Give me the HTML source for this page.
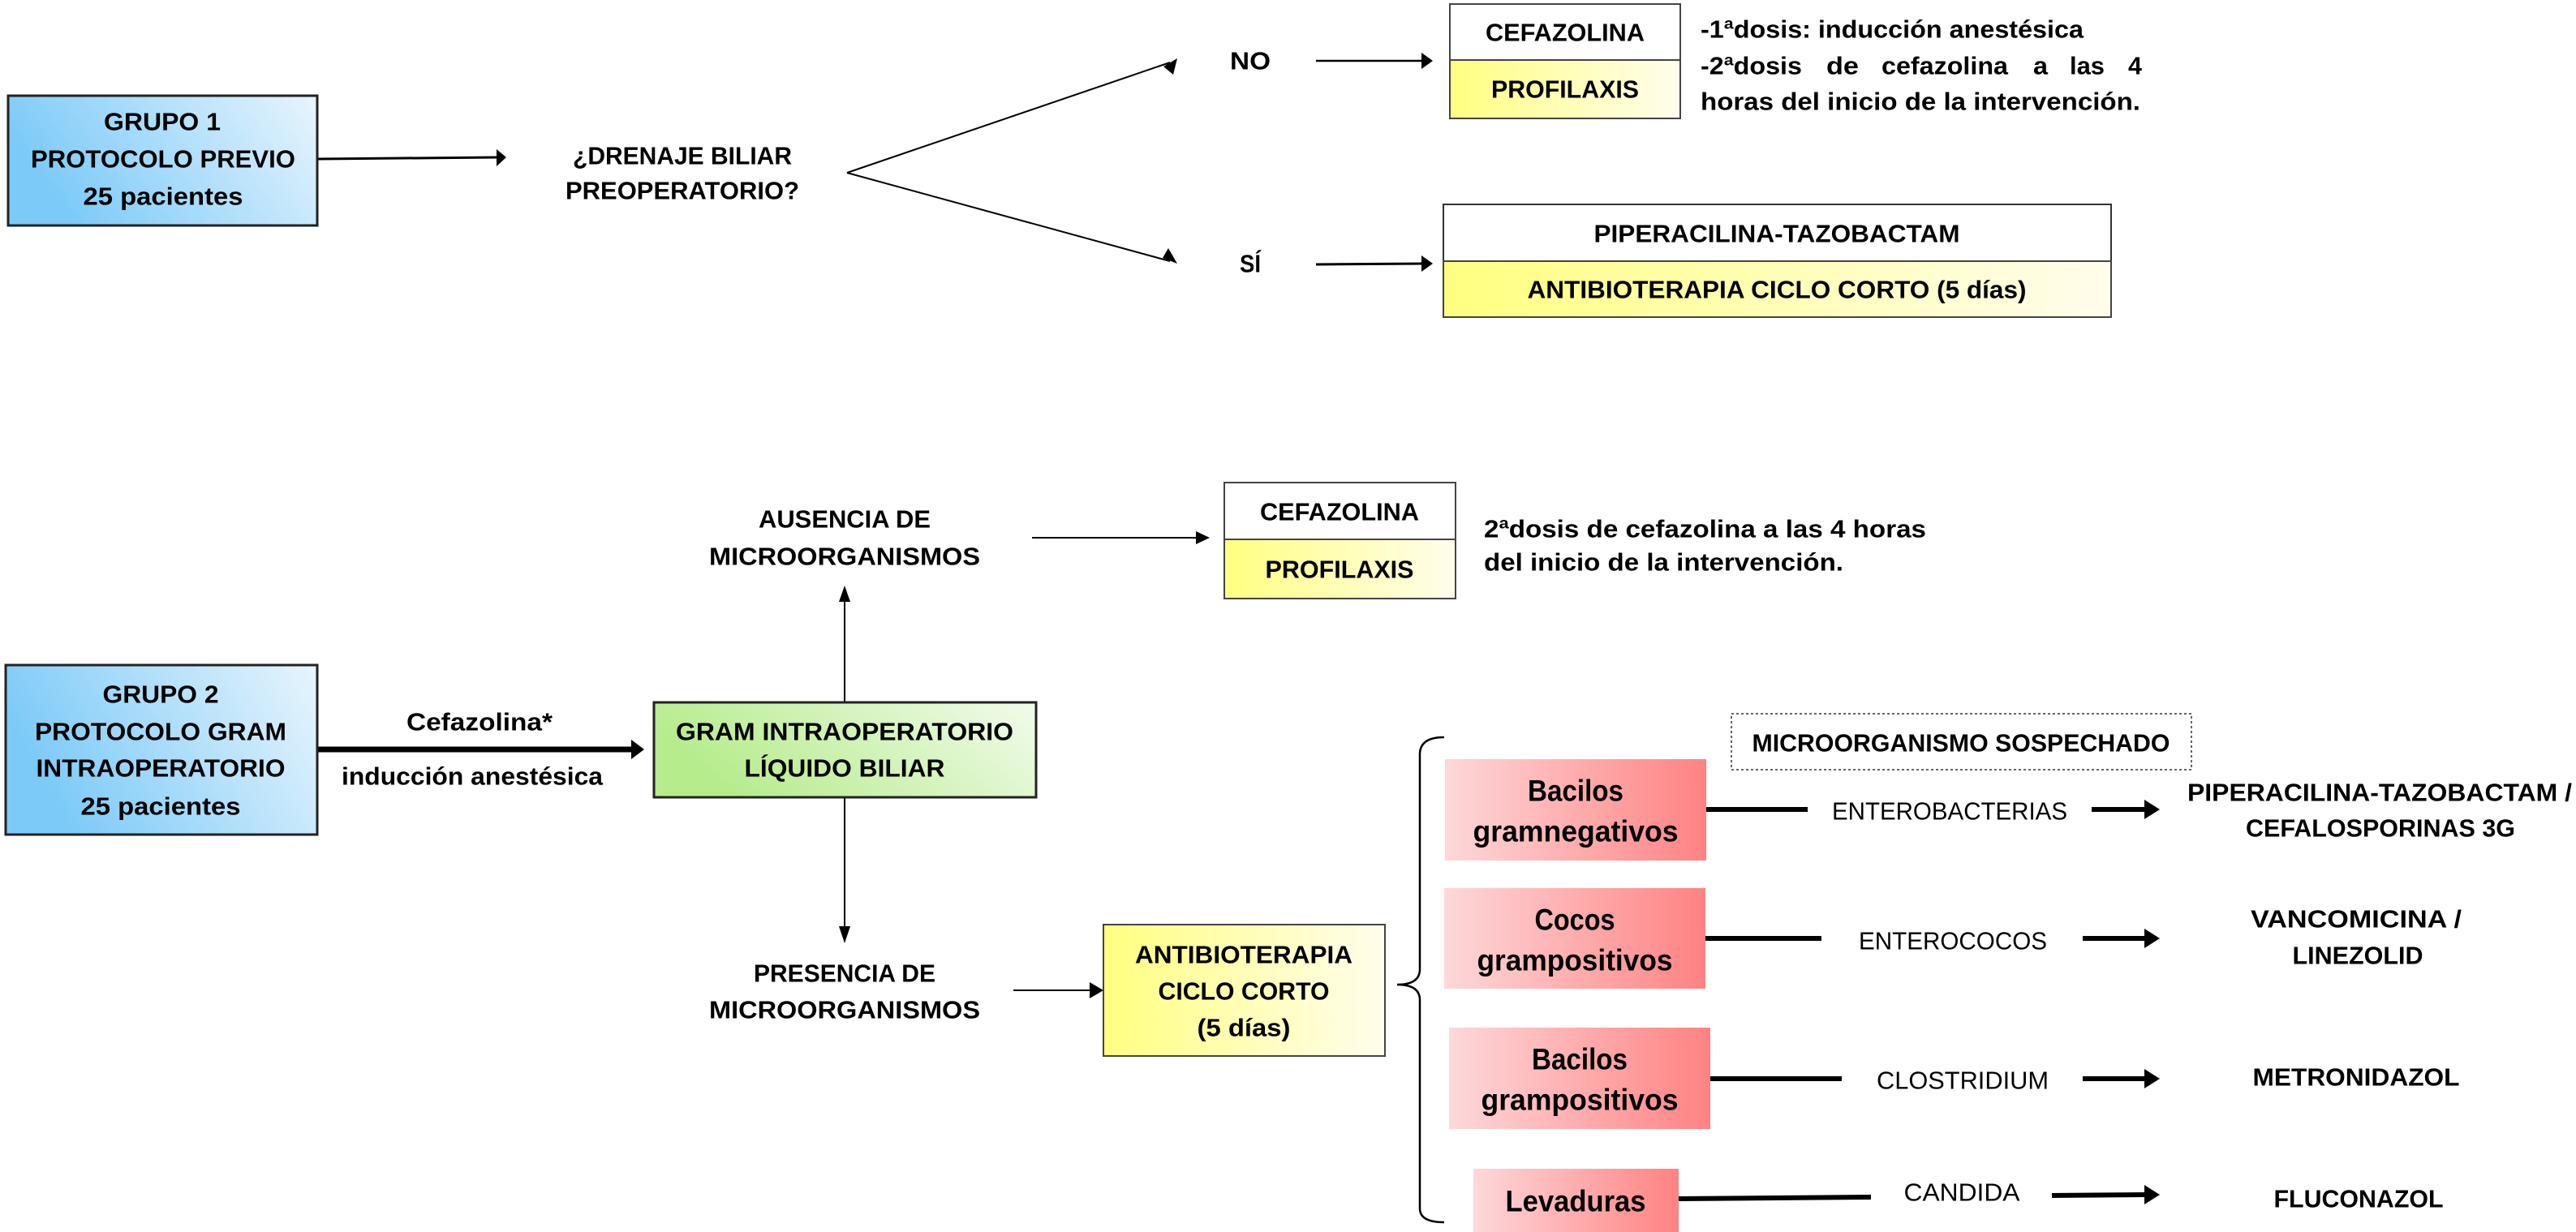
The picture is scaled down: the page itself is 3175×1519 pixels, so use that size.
<!DOCTYPE html>
<html><head><meta charset="utf-8"><style>
html,body{margin:0;padding:0;background:#fff;}
svg{display:block;font-family:"Liberation Sans Narrow","Liberation Sans",sans-serif;}
text{dominant-baseline:central;text-anchor:middle;font-weight:bold;font-size:31px;fill:#000;}
.r{font-weight:normal;}
.s{text-anchor:start;}
</style></head><body>
<svg width="3175" height="1519" viewBox="0 0 3175 1519" xmlns="http://www.w3.org/2000/svg">
<defs>
<linearGradient id="blue" x1="0" x2="1" y1="0.3" y2="0"><stop offset="0" stop-color="#7ccaf8"/><stop offset="1" stop-color="#e8f5fd"/></linearGradient>
<linearGradient id="yel" x1="0" x2="1"><stop offset="0" stop-color="#ffff80"/><stop offset="1" stop-color="#fffdec"/></linearGradient>
<linearGradient id="grn" x1="0" x2="1" y1="0.3" y2="0"><stop offset="0" stop-color="#b6ec8c"/><stop offset="1" stop-color="#f2fbec"/></linearGradient>
<linearGradient id="red" x1="0" x2="1"><stop offset="0" stop-color="#fdd8da"/><stop offset="1" stop-color="#ff8282"/></linearGradient>
</defs>
<g stroke="#000" fill="none">
<path d="M392,196 L612,194" stroke-width="3"/>
<path d="M1044,213 L1442,77" stroke-width="2"/>
<path d="M1044,213 L1442,322" stroke-width="2"/>
<path d="M1622,75 L1757,75" stroke-width="2.5"/>
<path d="M1622,326 L1757,325" stroke-width="3"/>
<path d="M391,924 L780,924" stroke-width="7"/>
<path d="M1041,866 L1041,740" stroke-width="2"/>
<path d="M1041,983 L1041,1145" stroke-width="2"/>
<path d="M1272,663 L1476,663" stroke-width="2"/>
<path d="M1249,1221 L1345,1221" stroke-width="2"/>
<path d="M1780,909 Q1750,909 1750,930 L1750,1195 Q1750,1214 1722,1214 Q1750,1214 1750,1233 L1750,1490 Q1750,1507 1780,1507" stroke-width="2.5"/>
<path d="M2103,998 L2228,998" stroke-width="6"/>
<path d="M2102,1157 L2245,1157" stroke-width="6"/>
<path d="M2108,1330 L2270,1330" stroke-width="6"/>
<path d="M2069,1478 L2306,1476" stroke-width="6"/>
<path d="M2578,998 L2645,998" stroke-width="6"/>
<path d="M2567,1157 L2645,1157" stroke-width="6"/>
<path d="M2567,1330 L2645,1330" stroke-width="6"/>
<path d="M2529,1474 L2645,1473" stroke-width="6"/>
</g>
<g fill="#000">
<path d="M612,184 L624,194 L612,205z"/>
<path d="M1451,72 L1446,92 L1434,82z"/>
<path d="M1451,325 L1433,318 L1440,306z"/>
<path d="M1752,65 L1766,75 L1752,85z"/>
<path d="M1752,315 L1766,325 L1752,335z"/>
<path d="M778,912 L794,924 L778,936z"/>
<path d="M1034,742 L1041,722 L1048,742z"/>
<path d="M1034,1142 L1041,1163 L1048,1142z"/>
<path d="M1474,655 L1491,663 L1474,671z"/>
<path d="M1343,1211 L1360,1221 L1343,1231z"/>
<path d="M2643,986 L2662,998 L2643,1010z"/>
<path d="M2643,1145 L2662,1157 L2643,1169z"/>
<path d="M2643,1318 L2662,1330 L2643,1342z"/>
<path d="M2643,1461 L2662,1473 L2643,1485z"/>
</g>
<rect x="10" y="118" width="381" height="160" fill="url(#blue)" stroke="#222" stroke-width="3"/>
<rect x="1787" y="5" width="284" height="69" fill="#fff" stroke="#444" stroke-width="2"/>
<rect x="1787" y="74" width="284" height="72" fill="url(#yel)" stroke="#444" stroke-width="2"/>
<rect x="1779" y="252" width="823" height="70" fill="#fff" stroke="#333" stroke-width="2"/>
<rect x="1779" y="322" width="823" height="69" fill="url(#yel)" stroke="#444" stroke-width="2"/>
<rect x="7" y="820" width="384" height="209" fill="url(#blue)" stroke="#222" stroke-width="3"/>
<rect x="806" y="866" width="471" height="117" fill="url(#grn)" stroke="#222" stroke-width="3"/>
<rect x="1509" y="595" width="285" height="70" fill="#fff" stroke="#444" stroke-width="2"/>
<rect x="1509" y="665" width="285" height="73" fill="url(#yel)" stroke="#444" stroke-width="2"/>
<rect x="1360" y="1140" width="347" height="162" fill="url(#yel)" stroke="#444" stroke-width="2"/>
<rect x="2134" y="880" width="567" height="69" fill="#fff" stroke="#333" stroke-width="1.5" stroke-dasharray="3,3"/>
<rect x="1781" y="936" width="322" height="125" fill="url(#red)"/>
<rect x="1780" y="1095" width="322" height="124" fill="url(#red)"/>
<rect x="1786" y="1267" width="322" height="125" fill="url(#red)"/>
<rect x="1816" y="1441" width="253" height="78" fill="url(#red)"/>
<text x="200" y="150" textLength="144" lengthAdjust="spacingAndGlyphs">GRUPO 1</text>
<text x="201" y="196" textLength="326" lengthAdjust="spacingAndGlyphs">PROTOCOLO PREVIO</text>
<text x="201" y="242" textLength="197" lengthAdjust="spacingAndGlyphs">25 pacientes</text>
<text x="841" y="192" textLength="270" lengthAdjust="spacingAndGlyphs">¿DRENAJE BILIAR</text>
<text x="841" y="235" textLength="288" lengthAdjust="spacingAndGlyphs">PREOPERATORIO?</text>
<text x="1541" y="75" textLength="50" lengthAdjust="spacingAndGlyphs">NO</text>
<text x="1541" y="325" textLength="26" lengthAdjust="spacingAndGlyphs">SÍ</text>
<text x="1929" y="40" textLength="196" lengthAdjust="spacingAndGlyphs">CEFAZOLINA</text>
<text x="1929" y="110" textLength="182" lengthAdjust="spacingAndGlyphs">PROFILAXIS</text>
<text x="2096" y="36" class="s" textLength="472" lengthAdjust="spacingAndGlyphs">-1ªdosis: inducción anestésica</text>
<text x="2096" y="81" class="s" textLength="125" lengthAdjust="spacingAndGlyphs">-2ªdosis</text>
<text x="2251" y="81" class="s" textLength="40" lengthAdjust="spacingAndGlyphs">de</text>
<text x="2319" y="81" class="s" textLength="156" lengthAdjust="spacingAndGlyphs">cefazolina</text>
<text x="2506" y="81" class="s" textLength="18" lengthAdjust="spacingAndGlyphs">a</text>
<text x="2551" y="81" class="s" textLength="43" lengthAdjust="spacingAndGlyphs">las</text>
<text x="2623" y="81" class="s" textLength="17" lengthAdjust="spacingAndGlyphs">4</text>
<text x="2096" y="125" class="s" textLength="542" lengthAdjust="spacingAndGlyphs">horas del inicio de la intervención.</text>
<text x="2190" y="288" textLength="451" lengthAdjust="spacingAndGlyphs">PIPERACILINA-TAZOBACTAM</text>
<text x="2190" y="357" textLength="615" lengthAdjust="spacingAndGlyphs">ANTIBIOTERAPIA CICLO CORTO (5 días)</text>
<text x="198" y="856" textLength="143" lengthAdjust="spacingAndGlyphs">GRUPO 2</text>
<text x="198" y="902" textLength="310" lengthAdjust="spacingAndGlyphs">PROTOCOLO GRAM</text>
<text x="198" y="947" textLength="307" lengthAdjust="spacingAndGlyphs">INTRAOPERATORIO</text>
<text x="198" y="994" textLength="197" lengthAdjust="spacingAndGlyphs">25 pacientes</text>
<text x="591" y="890" textLength="180" lengthAdjust="spacingAndGlyphs">Cefazolina*</text>
<text x="582" y="957" textLength="322" lengthAdjust="spacingAndGlyphs">inducción anestésica</text>
<text x="1041" y="902" textLength="416" lengthAdjust="spacingAndGlyphs">GRAM INTRAOPERATORIO</text>
<text x="1041" y="947" textLength="247" lengthAdjust="spacingAndGlyphs">LÍQUIDO BILIAR</text>
<text x="1041" y="640" textLength="212" lengthAdjust="spacingAndGlyphs">AUSENCIA DE</text>
<text x="1041" y="686" textLength="334" lengthAdjust="spacingAndGlyphs">MICROORGANISMOS</text>
<text x="1651" y="631" textLength="196" lengthAdjust="spacingAndGlyphs">CEFAZOLINA</text>
<text x="1651" y="702" textLength="183" lengthAdjust="spacingAndGlyphs">PROFILAXIS</text>
<text x="1829" y="652" class="s" textLength="545" lengthAdjust="spacingAndGlyphs">2ªdosis de cefazolina a las 4 horas</text>
<text x="1829" y="693" class="s" textLength="443" lengthAdjust="spacingAndGlyphs">del inicio de la intervención.</text>
<text x="1041" y="1200" textLength="224" lengthAdjust="spacingAndGlyphs">PRESENCIA DE</text>
<text x="1041" y="1245" textLength="334" lengthAdjust="spacingAndGlyphs">MICROORGANISMOS</text>
<text x="1533" y="1177" textLength="268" lengthAdjust="spacingAndGlyphs">ANTIBIOTERAPIA</text>
<text x="1533" y="1222" textLength="211" lengthAdjust="spacingAndGlyphs">CICLO CORTO</text>
<text x="1533" y="1267" textLength="115" lengthAdjust="spacingAndGlyphs">(5 días)</text>
<text x="2417" y="916" textLength="515" lengthAdjust="spacingAndGlyphs">MICROORGANISMO SOSPECHADO</text>
<text x="1942" y="975" style="font-size:37px" textLength="118" lengthAdjust="spacingAndGlyphs">Bacilos</text>
<text x="1942" y="1025" style="font-size:37px" textLength="253" lengthAdjust="spacingAndGlyphs">gramnegativos</text>
<text x="1941" y="1134" style="font-size:37px" textLength="99" lengthAdjust="spacingAndGlyphs">Cocos</text>
<text x="1941" y="1184" style="font-size:37px" textLength="241" lengthAdjust="spacingAndGlyphs">grampositivos</text>
<text x="1947" y="1306" style="font-size:37px" textLength="118" lengthAdjust="spacingAndGlyphs">Bacilos</text>
<text x="1947" y="1356" style="font-size:37px" textLength="243" lengthAdjust="spacingAndGlyphs">grampositivos</text>
<text x="1942" y="1481" style="font-size:37px" textLength="173" lengthAdjust="spacingAndGlyphs">Levaduras</text>
<text class="r" x="2403" y="1000" textLength="290" lengthAdjust="spacingAndGlyphs">ENTEROBACTERIAS</text>
<text class="r" x="2407" y="1160" textLength="232" lengthAdjust="spacingAndGlyphs">ENTEROCOCOS</text>
<text class="r" x="2419" y="1332" textLength="212" lengthAdjust="spacingAndGlyphs">CLOSTRIDIUM</text>
<text class="r" x="2418" y="1470" textLength="143" lengthAdjust="spacingAndGlyphs">CANDIDA</text>
<text x="2933" y="977" textLength="474" lengthAdjust="spacingAndGlyphs">PIPERACILINA-TAZOBACTAM /</text>
<text x="2934" y="1021" textLength="332" lengthAdjust="spacingAndGlyphs">CEFALOSPORINAS 3G</text>
<text x="2904" y="1133" textLength="260" lengthAdjust="spacingAndGlyphs">VANCOMICINA /</text>
<text x="2906" y="1178" textLength="161" lengthAdjust="spacingAndGlyphs">LINEZOLID</text>
<text x="2904" y="1328" textLength="255" lengthAdjust="spacingAndGlyphs">METRONIDAZOL</text>
<text x="2907" y="1478" textLength="209" lengthAdjust="spacingAndGlyphs">FLUCONAZOL</text>
</svg>
</body></html>
